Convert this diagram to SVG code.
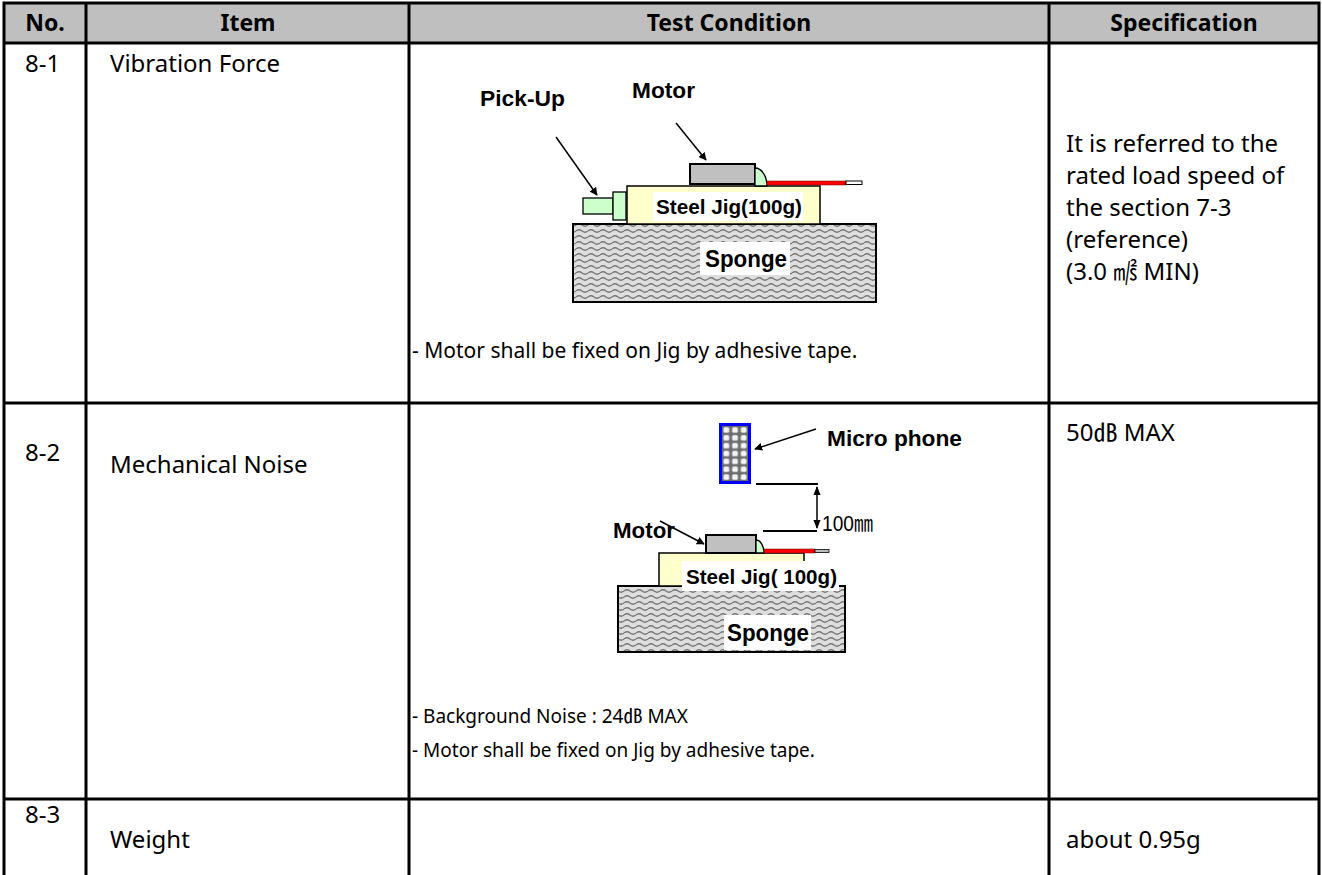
<svg xmlns="http://www.w3.org/2000/svg" width="1322" height="875" viewBox="0 0 1322 875">
<style>
.grid{stroke:#000;stroke-width:3;fill:none}
.hd{font-family:"Noto Sans","Noto Sans CJK KR",sans-serif;font-weight:bold;font-size:23px;fill:#000;text-anchor:middle}
.tx{font-family:"Noto Sans","Noto Sans CJK KR",sans-serif;font-size:24px;fill:#000}
.cap1{font-size:21px}
.cap2{font-size:19px}
.lb{font-family:"Liberation Sans",Arial,sans-serif;font-weight:bold;fill:#000}
.jig{fill:#ffffcc;stroke:#000;stroke-width:1.5}
.mot{fill:#c0c0c0;stroke:#000;stroke-width:2}
.grn{fill:#ccffcc;stroke:#000;stroke-width:1.3}
.wire{fill:#ff0000;stroke:#600;stroke-width:0.5}
.spg{fill:url(#wave);stroke:#000;stroke-width:2}
.wb{fill:#fff}
.arr{stroke:#000;stroke-width:1.5;fill:none;marker-end:url(#ah)}
</style>
<defs>
<marker id="ah" viewBox="0 0 10 10" refX="9" refY="5" markerWidth="8" markerHeight="8" markerUnits="userSpaceOnUse" orient="auto-start-reverse">
<path d="M0 0 L10 5 L0 10 Z" fill="#000"/>
</marker>
<marker id="ah2" viewBox="0 0 10 10" refX="9" refY="5" markerWidth="9" markerHeight="9" markerUnits="userSpaceOnUse" orient="auto-start-reverse">
<path d="M0 1 L10 5 L0 9 Z" fill="#000"/>
</marker>
<pattern id="wave" width="12" height="6" patternUnits="userSpaceOnUse">
<rect width="12" height="6" fill="#dedede"/>
<path d="M0 3 Q3 0.5 6 3 T12 3" stroke="#767676" stroke-width="1.3" fill="none"/>
</pattern>
<pattern id="mic" x="722" y="426" width="8.67" height="7.86" patternUnits="userSpaceOnUse">
<rect width="8.67" height="7.86" fill="#6e6e6e"/>
<rect x="1.5" y="1.3" width="5.7" height="5.3" rx="1.5" fill="#f4f4f4"/>
</pattern>
</defs>

<g id="table">
<rect x="4" y="3" width="1315" height="40" fill="#bfbfbf"/>
<path class="grid" d="M4 3 H1319 M4 43 H1319 M4 403 H1319 M4 799 H1319 M4 1.5 V875 M86 3 V875 M409 3 V875 M1049 3 V875 M1319 1.5 V875"/>
</g>

<g id="header">
<text class="hd" x="45" y="31">No.</text>
<text class="hd" x="248" y="31">Item</text>
<text class="hd" x="729" y="31">Test Condition</text>
<text class="hd" x="1184" y="31">Specification</text>
</g>

<g id="row-8-1">
<text class="tx" x="25" y="72">8-1</text>
<text class="tx" x="110" y="72">Vibration Force</text>
<text class="tx cap1" x="412" y="358">- Motor shall be fixed on Jig by adhesive tape.</text>
<text class="tx" x="1066" y="152">It is referred to the</text>
<text class="tx" x="1066" y="184">rated load speed of</text>
<text class="tx" x="1066" y="216">the section 7-3</text>
<text class="tx" x="1066" y="248">(reference)</text>
<text class="tx" x="1066" y="280">(3.0 ㎨ MIN)</text>
</g>

<g id="diagram-vibration">
<rect class="spg" x="573" y="224" width="303" height="78"/>
<rect class="jig" x="627" y="186" width="193" height="38"/>
<rect class="grn" x="583" y="198" width="30" height="16"/>
<rect class="grn" x="613" y="192" width="13" height="28"/>
<rect class="mot" x="690" y="164" width="65" height="20"/>
<path class="grn" d="M755 168 A12 18 0 0 1 767 186 L755 186 Z"/>
<rect class="wire" x="767" y="181" width="79" height="4"/>
<rect x="846" y="181" width="16" height="3.5" fill="#fff" stroke="#000" stroke-width="1"/>
<rect class="wb" x="653" y="192" width="150" height="29"/>
<text class="lb" x="656" y="214" font-size="21" textLength="146" lengthAdjust="spacingAndGlyphs">Steel Jig(100g)</text>
<rect class="wb" x="700" y="242" width="90" height="33"/>
<text class="lb" x="705" y="267" font-size="23" textLength="82" lengthAdjust="spacingAndGlyphs">Sponge</text>
<text class="lb" x="480" y="106" font-size="22" textLength="85" lengthAdjust="spacingAndGlyphs">Pick-Up</text>
<text class="lb" x="632" y="98" font-size="22" textLength="63" lengthAdjust="spacingAndGlyphs">Motor</text>
</g>

<g id="row-8-2">
<text class="tx" x="25" y="461">8-2</text>
<text class="tx" x="110" y="473">Mechanical Noise</text>
<text class="tx" x="1066" y="441">50㏈ MAX</text>
<text class="tx cap2" x="412" y="723">- Background Noise : 24㏈ MAX</text>
<text class="tx cap2" x="412" y="757">- Motor shall be fixed on Jig by adhesive tape.</text>
</g>

<g id="diagram-noise">
<rect x="720.5" y="424.5" width="29" height="58" fill="url(#mic)" stroke="#0000ff" stroke-width="3"/>
<text class="lb" x="827" y="446" font-size="22" textLength="135" lengthAdjust="spacingAndGlyphs">Micro phone</text>
<line x1="756" y1="484" x2="818" y2="484" stroke="#000" stroke-width="2"/>
<line x1="763" y1="531" x2="817" y2="531" stroke="#000" stroke-width="2"/>
<text x="822" y="531" font-family="Liberation Sans,'Noto Sans CJK KR',sans-serif" font-size="22" fill="#000" textLength="51" lengthAdjust="spacingAndGlyphs">100㎜</text>
<rect class="spg" x="618" y="586" width="227" height="66"/>
<rect class="jig" x="659" y="553" width="145" height="33"/>
<rect class="mot" x="706" y="535" width="50" height="18"/>
<path class="grn" d="M756 540 A8 13 0 0 1 764 553 L756 553 Z"/>
<rect class="wire" x="764" y="549" width="51" height="4"/>
<rect x="815" y="549.5" width="14" height="3" fill="#bbb" stroke="#000" stroke-width="0.8"/>
<rect class="wb" x="682" y="561" width="157" height="30"/>
<text class="lb" x="686" y="584" font-size="21" textLength="151" lengthAdjust="spacingAndGlyphs">Steel Jig( 100g)</text>
<rect class="wb" x="724" y="615" width="87" height="35"/>
<text class="lb" x="727" y="641" font-size="23" textLength="82" lengthAdjust="spacingAndGlyphs">Sponge</text>
<text class="lb" x="613" y="538" font-size="22" textLength="62" lengthAdjust="spacingAndGlyphs">Motor</text>
</g>

<g id="row-8-3">
<text class="tx" x="25" y="823">8-3</text>
<text class="tx" x="110" y="848">Weight</text>
<text class="tx" x="1066" y="848">about 0.95g</text>
</g>

<g id="connectors">
<line class="arr" x1="556" y1="137" x2="597" y2="195"/>
<line class="arr" x1="676" y1="123" x2="706" y2="160"/>
<line class="arr" x1="816" y1="429" x2="755" y2="449"/>
<line class="arr" x1="660" y1="521" x2="704" y2="544"/>
<line x1="817" y1="487" x2="817" y2="528" stroke="#000" stroke-width="1.5" marker-start="url(#ah2)" marker-end="url(#ah2)"/>
</g>
</svg>
